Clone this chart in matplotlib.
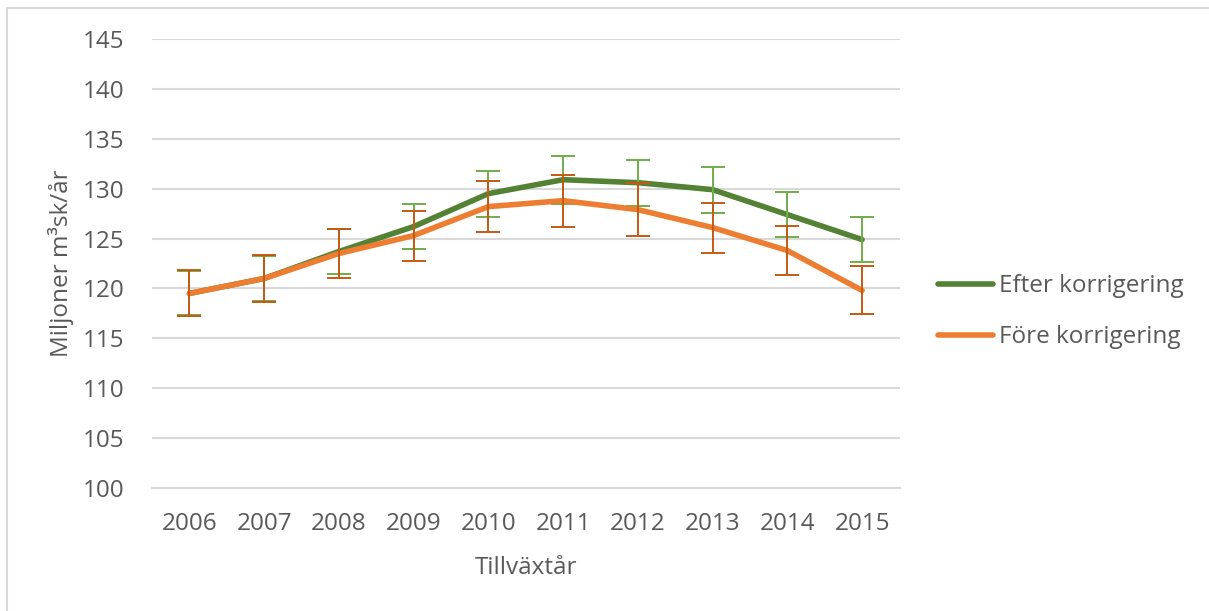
import matplotlib.pyplot as plt
from matplotlib.lines import Line2D

years = ["2006", "2007", "2008", "2009", "2010", "2011", "2012", "2013", "2014", "2015"]

# Efter korrigering (green)
efter = [119.5, 121.0, 123.7, 126.2, 129.5, 130.9, 130.6, 129.9, 127.4, 124.9]
efter_err = [2.2, 2.25, 2.3, 2.25, 2.3, 2.4, 2.3, 2.3, 2.25, 2.25]

# Före korrigering (orange)
fore = [119.5, 121.0, 123.5, 125.3, 128.2, 128.8, 127.9, 126.1, 123.8, 119.8]
fore_err = [2.3, 2.35, 2.45, 2.5, 2.55, 2.6, 2.65, 2.5, 2.45, 2.4]

text_color = "#595959"
grid_color = "#D9D9D9"

plt.rcParams["font.family"] = ["Open Sans", "DejaVu Sans"]

fig = plt.figure(figsize=(12.09, 6.11), dpi=100)
ax = fig.add_axes([152 / 1209, 1 - 488 / 611, (899.5 - 152) / 1209, (488 - 39) / 611])

x = list(range(len(years)))

ax.plot(x, efter, color="#548235", lw=4.0, solid_capstyle="round", zorder=3)
ax.errorbar(x, efter, yerr=efter_err, fmt="none", ecolor="#70AD47",
            elinewidth=1.4, capsize=8.5, capthick=1.4, zorder=4)
ax.plot(x, fore, color="#ED7D31", lw=4.0, solid_capstyle="round", zorder=5)
ax.errorbar(x, fore, yerr=fore_err, fmt="none", ecolor="#C55A11",
            elinewidth=1.4, capsize=8.5, capthick=1.4, zorder=6)

ax.set_xlim(-0.5, len(years) - 0.5)
ax.set_ylim(100, 145)
ax.set_yticks(range(100, 146, 5))
ax.set_xticks(x)
ax.set_xticklabels(years)

ax.grid(axis="y", color=grid_color, lw=1.5)
ax.set_axisbelow(True)
for side in ["top", "right", "left"]:
    ax.spines[side].set_visible(False)
ax.spines["bottom"].set_color(grid_color)
ax.spines["bottom"].set_linewidth(1.5)

ax.tick_params(axis="both", length=0, labelsize=17.5, labelcolor=text_color)
ax.tick_params(axis="y", pad=20)
ax.tick_params(axis="x", pad=17)

ax.set_xlabel("Tillväxtår", fontsize=17.5, color=text_color, labelpad=15)
ax.set_ylabel("Miljoner m³sk/år", fontsize=17.5, color=text_color)
ax.yaxis.set_label_coords(-0.105, 0.5)

handles = [Line2D([], [], color="#548235", lw=4.0, solid_capstyle="round"),
           Line2D([], [], color="#ED7D31", lw=4.0, solid_capstyle="round")]
fig.legend(handles, ["Efter korrigering", "Före korrigering"],
           loc="center left", bbox_to_anchor=(938 / 1209, 1 - 311.7 / 611),
           frameon=False, fontsize=17.5, labelcolor=text_color,
           handlelength=2.25, handletextpad=0.25, labelspacing=1.11,
           borderpad=0, borderaxespad=0)

# outer chart border (left and top only are visible)
fig.add_artist(Line2D([7 / 1209, 7 / 1209, 1], [0, 1 - 8 / 611, 1 - 8 / 611],
                      color=grid_color, lw=1.5))

fig.savefig("out.png", dpi=100)
